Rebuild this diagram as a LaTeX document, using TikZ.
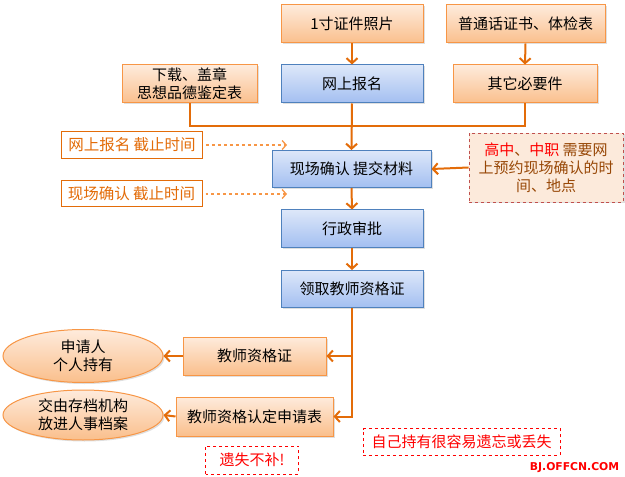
\documentclass[tikz,border=0pt]{standalone}
\usepackage{fontspec}
\setmainfont{Noto Sans CJK SC}
\newfontfamily\logofont{DejaVu Sans}
\usetikzlibrary{arrows.meta,shadows,shapes.geometric}
\definecolor{arrowor}{HTML}{E36C09}
\definecolor{lightor}{HTML}{F79646}
\definecolor{ortop}{HTML}{FEEBDC}
\definecolor{orbot}{HTML}{FABF8C}
\definecolor{orborder}{HTML}{F79646}
\definecolor{bltop}{HTML}{DDE7F9}
\definecolor{blbot}{HTML}{A3BFF1}
\definecolor{blborder}{HTML}{4F81BD}
\definecolor{notefill}{HTML}{FCEADB}
\definecolor{noteborder}{HTML}{C0504D}
\definecolor{notetext}{HTML}{984807}
\begin{document}
\begin{tikzpicture}[x=1bp,y=-1bp,
  every node/.style={font=\fontsize{15bp}{18bp}\selectfont, inner sep=0pt, align=center},
  shade/.style={drop shadow={opacity=0.25,shadow xshift=1.5bp,shadow yshift=-1.5bp}},
  orbox/.style={rectangle, draw=orborder, line width=1bp, top color=ortop, bottom color=orbot, shade},
  blbox/.style={rectangle, draw=blborder, line width=1bp, top color=bltop, bottom color=blbot, shade},
  orell/.style={ellipse, draw=orborder, line width=1bp, top color=ortop, bottom color=orbot, shade},
  dlbox/.style={rectangle, draw=arrowor, line width=1bp, fill=white, text=arrowor, font=\fontsize{15.5bp}{18bp}\selectfont},
  redbox/.style={rectangle, draw=red, dashed, line width=0.8bp, fill=white, text=red, font=\fontsize{15bp}{18bp}\selectfont},
  notebox/.style={rectangle, draw=noteborder, dashed, line width=0.8bp, fill=notefill, text=notetext, shade},
  conn/.style={draw=arrowor, line width=2bp, -{Straight Barb[length=5bp,width=11bp,line width=2bp]}},
  plainconn/.style={draw=arrowor, line width=2bp},
  dashconn/.style={draw=lightor, line width=1.3bp, dashed, -{Straight Barb[length=4bp,width=9bp,line width=1.3bp]}}
]
\useasboundingbox (0,0) rectangle (625,477);

\node[orbox, minimum width=142bp, minimum height=38bp] (photo) at (352,24) {1寸证件照片};
\node[orbox, minimum width=159bp, minimum height=38bp] (ptzs) at (525.5,24) {普通话证书、体检表};
\node[blbox, minimum width=142bp, minimum height=38bp] (wsbm) at (352,84) {网上报名};
\node[orbox, minimum width=144bp, minimum height=38bp] (qita) at (525,84) {其它必要件};
\node[orbox, minimum width=135bp, minimum height=38bp] (xiazai) at (189.5,84) {下载、盖章\\思想品德鉴定表};

\node[dlbox, minimum width=141bp, minimum height=27bp] (dl1) at (132,145) {网上报名 截止时间};
\node[dlbox, minimum width=141bp, minimum height=26bp] (dl2) at (131.5,194) {现场确认 截止时间};
\node[blbox, minimum width=159bp, minimum height=37bp] (xcqr) at (351.5,169) {现场确认 提交材料};
\node[notebox, minimum width=154bp, minimum height=69bp] (note) at (546,167.5)
  {\textcolor{red}{高中}、\textcolor{red}{中职} 需要网\\上预约现场确认的时\\间、地点};

\node[blbox, minimum width=142bp, minimum height=37bp] (xzsp) at (352,228.5) {行政审批};
\node[blbox, minimum width=142bp, minimum height=37bp] (lq) at (352,289) {领取教师资格证};

\node[orbox, minimum width=143bp, minimum height=38bp] (jszs) at (254.5,356) {教师资格证};
\node[orbox, minimum width=157bp, minimum height=39bp] (sqb) at (254.5,416.5) {教师资格认定申请表};
\node[orell, minimum width=160bp, minimum height=53bp] (ell1) at (83,356) {申请人\\个人持有};
\node[orell, minimum width=160bp, minimum height=50bp] (ell2) at (83,415) {交由存档机构\\放进人事档案};

\node[redbox, minimum width=93bp, minimum height=28bp] (yisi) at (252,460) {遗失不补!};
\node[redbox, minimum width=197bp, minimum height=27bp] (ziji) at (461.5,442) {自己持有很容易遗忘或丢失};
\node[text=red, font=\logofont\bfseries\fontsize{10.8bp}{12bp}\selectfont] (logo) at (574.5,467.5) {BJ.OFFCN.COM};

\coordinate (bar) at (352,126);
\coordinate (d1end) at (287,145);
\coordinate (d2end) at (287,194);

\draw[conn] (photo.south) -- (wsbm.north);
\draw[conn] (ptzs.south) -- (qita.north);
\draw[plainconn] (xiazai.south) |- (bar) -| (qita.south);
\draw[conn] (wsbm.south) -- (xcqr.north);
\draw[dashconn] ([xshift=3bp]dl1.east) -- (d1end);
\draw[dashconn] ([xshift=3bp]dl2.east) -- (d2end);
\draw[conn] (note.west) -- (xcqr.east);
\draw[conn] (xcqr.south) -- (xzsp.north);
\draw[conn] (xzsp.south) -- (lq.north);
\draw[conn] (lq.south) |- (sqb.east);
\draw[conn] (lq.south |- jszs.east) -- (jszs.east);
\draw[conn] (jszs.west) -- (ell1.east);
\draw[conn] (sqb.west) -- (ell2.east);
\end{tikzpicture}
\end{document}
